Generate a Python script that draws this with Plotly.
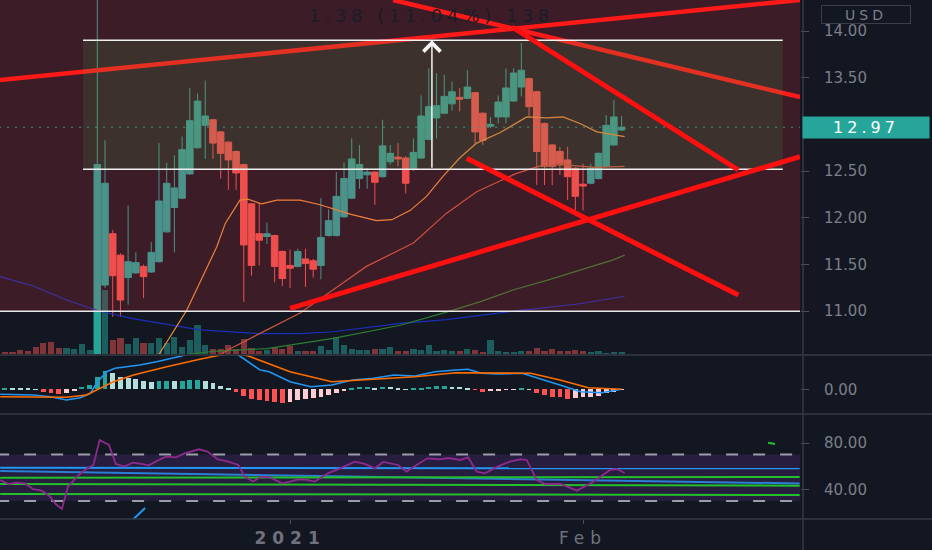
import plotly.graph_objects as go

# candle index 0 is the first visible bar; negative ones sit below the visible price range
idx = list(range(-12, 69))

opens = [10.30, 10.27, 10.25, 10.20, 10.18, 10.10, 10.03, 9.95, 9.93, 10.02, 10.06, 10.20,
         10.30, 11.28, 11.83, 11.60, 11.36, 11.41, 11.48, 11.42, 11.53, 11.85, 12.11, 12.21,
         12.47, 12.75, 12.99, 13.05, 12.92, 12.81, 12.71, 12.57, 12.15, 11.83, 11.80, 11.81,
         11.64, 11.49, 11.48, 11.56, 11.54, 11.49, 11.81, 11.81, 12.01, 12.21, 12.42, 12.46,
         12.49, 12.44, 12.60, 12.65, 12.64, 12.53, 12.64, 12.84, 13.07, 13.12, 13.22, 13.29,
         13.28, 13.34, 13.12, 12.98, 13.08, 13.08, 13.25, 13.40, 13.49, 13.35, 13.01, 12.78,
         12.71, 12.62, 12.53, 12.36, 12.37, 12.42, 12.55, 12.78, 12.94]
highs = [10.34, 10.30, 10.28, 10.23, 10.20, 10.12, 10.05, 9.99, 10.05, 10.08, 10.25, 10.35,
         14.80, 12.83, 11.87, 11.62, 12.13, 11.63, 11.50, 11.74, 12.80, 12.59, 12.67, 12.87,
         13.39, 13.33, 13.47, 13.06, 12.93, 12.82, 12.72, 12.58, 12.16, 12.16, 11.95, 11.82,
         11.65, 11.66, 11.67, 11.67, 11.56, 12.21, 12.09, 12.49, 12.59, 12.85, 12.78, 12.53,
         12.50, 13.05, 12.78, 12.80, 12.66, 12.85, 13.31, 13.60, 13.55, 13.53, 13.46, 13.39,
         13.58, 13.35, 13.13, 13.08, 13.31, 13.60, 13.60, 13.87, 13.50, 13.36, 13.02, 12.79,
         12.76, 12.76, 12.54, 12.58, 12.58, 12.70, 13.10, 13.26, 13.09]
lows = [10.24, 10.22, 10.18, 10.15, 10.08, 10.00, 9.92, 9.90, 9.92, 10.00, 10.05, 10.18,
        10.25, 11.25, 10.94, 10.94, 11.07, 11.40, 11.14, 11.41, 11.52, 11.84, 11.63, 12.20,
        12.46, 12.74, 12.63, 12.63, 12.42, 12.30, 12.30, 11.10, 11.38, 11.49, 11.72, 11.31,
        11.27, 11.25, 11.47, 11.26, 11.36, 11.34, 11.80, 11.80, 12.00, 12.20, 12.31, 12.31,
        12.14, 12.43, 12.57, 12.55, 12.26, 12.50, 12.63, 12.83, 12.85, 13.11, 13.15, 13.14,
        13.27, 12.78, 12.78, 12.96, 13.01, 13.01, 13.24, 13.30, 13.09, 12.35, 12.35, 12.35,
        12.46, 12.19, 12.08, 12.08, 12.36, 12.41, 12.54, 12.77, 12.93]
closes = [10.27, 10.25, 10.20, 10.18, 10.10, 10.03, 9.95, 9.93, 10.02, 10.06, 10.20, 10.30,
          12.57, 12.37, 11.38, 11.12, 11.53, 11.52, 11.37, 11.63, 12.18, 12.37, 12.32, 12.73,
          13.04, 13.25, 13.09, 12.80, 12.69, 12.62, 12.48, 11.71, 11.49, 11.76, 11.83, 11.48,
          11.35, 11.46, 11.64, 11.51, 11.45, 11.79, 11.97, 12.23, 12.42, 12.63, 12.57, 12.49,
          12.38, 12.77, 12.69, 12.63, 12.37, 12.70, 13.09, 13.19, 13.20, 13.30, 13.35, 13.27,
          13.40, 12.92, 12.83, 13.00, 13.24, 13.39, 13.55, 13.58, 13.19, 12.71, 12.55, 12.55,
          12.58, 12.44, 12.23, 12.34, 12.53, 12.69, 12.99, 13.08, 12.97]
volume = [20, 17, 40, 33, 73, 107, 117, 63, 63, 47, 97, 43,
          1500, 640, 140, 163, 97, 157, 107, 113, 163, 107, 173, 73,
          140, 290, 90, 50, 50, 90, 47, 147, 57, 30, 40, 70,
          50, 80, 30, 30, 30, 80, 40, 170, 90, 50, 40, 40,
          50, 50, 70, 30, 30, 50, 40, 90, 30, 40, 30, 30,
          50, 40, 20, 140, 30, 20, 20, 30, 30, 60, 30, 50,
          30, 30, 40, 30, 20, 30, 10, 20, 20]

# moving averages, sampled (bar index, price)
ema_fast_x = [4, 8.1, 11.6, 15.5, 16.6, 18.5, 19.5, 21.3, 23.3, 26.3, 28.9, 32.8, 36.2, 38.2,
              40.6, 42.7, 44.8, 47.0, 49.2, 52.2, 55.7, 58.3, 60.4, 62.6, 64.8, 68.4]
ema_fast_y = [10.05, 10.55, 11.01, 11.69, 11.94, 12.19, 12.20, 12.15, 12.19, 12.19, 12.14, 12.04,
              11.97, 11.98, 12.08, 12.23, 12.44, 12.64, 12.80, 12.91, 13.08, 13.07, 13.08, 13.01,
              12.92, 12.87]
ema_mid_x = [8, 16.8, 22.0, 26.3, 30.6, 34.9, 41.0, 45.3, 49.2, 51.6, 54.2, 57.2, 60.2, 64.6, 68.4]
ema_mid_y = [10.10, 10.58, 10.80, 10.98, 11.23, 11.48, 11.73, 12.05, 12.28, 12.37, 12.47, 12.55,
             12.57, 12.54, 12.55]
ema_slow_x = [8, 15, 22.0, 30.6, 39.3, 45.3, 49.6, 54.0, 58.3, 62.6, 66.9, 68.4]
ema_slow_y = [10.50, 10.57, 10.60, 10.71, 10.85, 10.99, 11.10, 11.23, 11.33, 11.44, 11.55, 11.60]
ema_long_x = [-12.6, -8.3, -4.0, 0.35, 4.6, 9.0, 13.3, 21.1, 26.3, 30.6, 39.3, 45.3, 54.0, 62.6, 68.4]
ema_long_y = [11.37, 11.27, 11.12, 11.00, 10.92, 10.86, 10.80, 10.76, 10.76, 10.78, 10.87, 10.91,
              11.00, 11.08, 11.16]

# MACD pane
macd_x = [-12.6, -8.3, -6.1, -4.0, -2.2, -0.9, -0.1, 1.2, 2.3, 3.8, 5.5, 7.7, 9.9, 10.9, 14.5,
          18.3, 21.1, 22.3, 25.0, 27.7, 30.4, 33.1, 35.8, 38.5, 41.2, 43.8, 46.5, 48.1, 49.8,
          51.9, 55.1, 57.3, 60.0, 62.7, 65.4, 68.0]
macd_y = [-0.05, -0.057, -0.074, -0.107, -0.084, -0.04, 0.06, 0.176, 0.21, 0.226, 0.243, 0.276,
          0.32, 0.333, 0.44, 0.343, 0.193, 0.176, 0.076, 0.026, 0.043, 0.093, 0.11, 0.143, 0.133,
          0.176, 0.193, 0.2, 0.16, 0.153, 0.16, 0.11, 0.043, -0.024, -0.034, 0.0]
signal_x = [-12.6, -8.3, -4.0, -1.4, 0.35, 2.1, 4.7, 9.0, 13.3, 17.6, 19.6, 25.0, 30.4, 35.8,
            41.2, 46.5, 51.9, 56.2, 60.0, 63.7, 68.0]
signal_y = [-0.074, -0.08, -0.08, -0.057, 0.01, 0.076, 0.143, 0.226, 0.30, 0.37, 0.333, 0.176,
            0.076, 0.10, 0.126, 0.166, 0.166, 0.16, 0.093, 0.016, 0.0]
hist = [0.010, 0.009, 0.008, 0.005, 0.002, -0.023, -0.033, -0.050, -0.033, -0.017, 0.020, 0.043,
        0.127, 0.183, 0.160, 0.127, 0.110, 0.100, 0.083, 0.077, 0.083, 0.085, 0.083, 0.086,
        0.092, 0.094, 0.087, 0.060, 0.033, 0.010, -0.023, -0.067, -0.097, -0.107, -0.113, -0.123,
        -0.133, -0.123, -0.107, -0.100, -0.090, -0.073, -0.057, -0.033, -0.013, 0.017, 0.020, 0.023,
        0.017, 0.027, 0.024, 0.017, 0.003, 0.010, 0.017, 0.027, 0.033, 0.035, 0.027, 0.025,
        0.017, -0.007, -0.023, -0.017, -0.013, -0.003, -0.002, 0.007, 0.003, -0.040, -0.057, -0.073,
        -0.080, -0.093, -0.087, -0.080, -0.073, -0.067, -0.040, -0.023, -0.007]

# RSI pane
rsi_x = [-12.6, -11.5, -10.5, -9.4, -8.3, -7.2, -6.2, -5.4, -4.6, -3.8, -2.4, -1.3, -0.5, 0.3,
         1.5, 2.4, 3.5, 4.6, 5.7, 6.7, 7.8, 8.9, 10.2, 11.3, 13.2, 14.3, 15.6, 17.0, 18.3, 19.1,
         20.2, 21.3, 22.3, 24.0, 25.0, 26.1, 27.2, 28.2, 29.9, 31.5, 33.4, 34.7, 36.0, 37.1, 39.0,
         40.1, 41.1, 42.8, 44.4, 45.5, 47.1, 48.1, 49.2, 50.3, 51.9, 53.5, 54.9, 55.7, 57.0, 58.1,
         60.1, 62.2, 64.3, 66.5, 67.4, 68.4]
rsi_y = [48.2, 44.7, 45.9, 45.3, 40.2, 39.0, 34.4, 27.5, 23.2, 42.5, 52.5, 58.2, 61.1, 82.6,
         78.3, 62.0, 59.7, 63.1, 62.0, 60.8, 64.8, 68.3, 67.7, 71.1, 74.6, 72.6, 66.0, 64.0, 61.1,
         51.1, 46.8, 51.1, 50.5, 45.3, 46.8, 48.8, 48.2, 46.8, 53.9, 58.2, 64.0, 62.0, 58.2, 63.7,
         61.1, 55.4, 59.7, 66.8, 66.0, 67.1, 65.4, 67.7, 55.4, 53.9, 59.7, 64.0, 66.0, 65.4, 48.2,
         44.7, 44.7, 39.0, 46.5, 56.8, 57.6, 54.2]
rsi_upper, rsi_lower = 70, 30
# drawn lines in the RSI pane: (x0, y0, x1, y1, colour)
rsi_drawings = [(-12.6, 58.7, 91.1, 58.2, "#2196f3"),
                (-12.6, 55.9, 91.1, 45.2, "#2a7fd6"),
                (-12.6, 50.2, 91.1, 50.8, "#22c02a"),
                (-12.6, 44.7, 91.1, 43.3, "#22c02a"),
                (-12.6, 36.1, 91.1, 35.3, "#22c02a"),
                (4.3, 12.0, 6.2, 24.1, "#2196f3"),
                (87.0, 80.3, 87.9, 79.1, "#22c02a")]

# drawings on the price pane (bar index, price)
zone_low, zone_high = 11.00, 15.5
range_x0, range_x1 = -1.85, 88.9
range_low, range_high = 12.52, 13.90
range_arrow_x = 43.4
range_label = "1.38 (11.04%) 138"
last_price = 12.97
trend_under = [(-12.62, 13.475, 91.14, 14.332), (38.38, 14.332, 91.14, 13.293)]
trend_over = [(53.79, 14.043, 83.14, 12.512), (24.99, 11.031, 91.14, 12.654),
              (47.91, 12.637, 83.14, 11.173)]

tick_vals = [25, 63]
tick_text = ["<b>2021</b>", "Feb"]
# 13.00 sits under the last-price tag, so it is not shown
price_ticks = [11.0, 11.5, 12.0, 12.5, 13.5, 14.0]

UP, DOWN = "#26a69a", "#ef5350"
BG = "#131722"
AXIS_TXT = "#7c7f88"
FONT = "DejaVu Sans"

fig = go.Figure()

# volume underneath the candles
vol_colors = ["rgba(38,166,154,0.5)" if c >= o else "rgba(239,83,80,0.5)" for o, c in zip(opens, closes)]
fig.add_trace(go.Bar(x=idx, y=volume, marker_color=vol_colors, marker_line_width=0, width=0.8,
                     xaxis="x", yaxis="y", hoverinfo="skip"))

fig.add_trace(go.Candlestick(
    x=idx, open=opens, high=highs, low=lows, close=closes,
    increasing=dict(line=dict(color=UP, width=1), fillcolor=UP),
    decreasing=dict(line=dict(color=DOWN, width=1), fillcolor=DOWN),
    whiskerwidth=0, xaxis="x", yaxis="y2"))

for xs, ys, col in [(ema_long_x, ema_long_y, "#1c2fb8"), (ema_slow_x, ema_slow_y, "#2e7d32"),
                    (ema_mid_x, ema_mid_y, "#c8553d"), (ema_fast_x, ema_fast_y, "#f0913a")]:
    fig.add_trace(go.Scatter(x=xs, y=ys, mode="lines", line=dict(color=col, width=1.2),
                             xaxis="x", yaxis="y2", hoverinfo="skip"))

# MACD histogram colours follow sign and direction
hist_colors = []
for i, h in enumerate(hist):
    prev = hist[i - 1] if i > 0 else h
    if h >= 0:
        hist_colors.append("#26a69a" if h >= prev else "#b2dfdb")
    else:
        hist_colors.append("#ffcdd2" if h >= prev else "#ff5252")
fig.add_trace(go.Bar(x=idx, y=hist, marker_color=hist_colors, marker_line_width=0, width=0.62,
                     xaxis="x", yaxis="y3", hoverinfo="skip"))
fig.add_trace(go.Scatter(x=macd_x, y=macd_y, mode="lines", line=dict(color="#2196f3", width=1.6),
                         xaxis="x", yaxis="y3"))
fig.add_trace(go.Scatter(x=signal_x, y=signal_y, mode="lines", line=dict(color="#ff6d00", width=1.6),
                         xaxis="x", yaxis="y3"))

for x0, y0, x1, y1, col in rsi_drawings:
    fig.add_trace(go.Scatter(x=[x0, x1], y=[y0, y1], mode="lines", line=dict(color=col, width=2),
                             xaxis="x", yaxis="y4", hoverinfo="skip"))
fig.add_trace(go.Scatter(x=rsi_x, y=rsi_y, mode="lines", line=dict(color="#8e2a8e", width=1.8),
                         xaxis="x", yaxis="y4"))

shapes = []
# RSI band and levels
shapes.append(dict(type="rect", xref="x", yref="y4", x0=-20, x1=100, y0=rsi_lower, y1=rsi_upper,
                   fillcolor="rgba(140,60,215,0.16)", line_width=0, layer="below"))
for lv in (rsi_upper, rsi_lower):
    shapes.append(dict(type="line", xref="x", yref="y4", x0=-20, x1=100, y0=lv, y1=lv,
                       line=dict(color="#9a9ea6", width=2, dash="12px,15px"), layer="below"))

# maroon zone above 11.00 drawn over the candles
shapes.append(dict(type="rect", xref="x", yref="y2", x0=-20, x1=100, y0=zone_low, y1=zone_high,
                   fillcolor="rgba(242,54,69,0.18)", line=dict(color="#e8e8e8", width=1.5), layer="above"))
for x0, y0, x1, y1 in trend_under:
    shapes.append(dict(type="line", xref="x", yref="y2", x0=x0, y0=y0, x1=x1, y1=y1,
                       line=dict(color="#ff1a1a", width=4.5), layer="above"))
# price range box
shapes.append(dict(type="rect", xref="x", yref="y2", x0=range_x0, x1=range_x1, y0=range_low,
                   y1=range_high, fillcolor="rgba(76,175,80,0.15)", line_width=0, layer="above"))
for lv in (range_low, range_high):
    shapes.append(dict(type="line", xref="x", yref="y2", x0=range_x0, x1=range_x1, y0=lv, y1=lv,
                       line=dict(color="#f0f0f0", width=1.5), layer="above"))
shapes.append(dict(type="line", xref="x", yref="y2", x0=-20, x1=100, y0=last_price, y1=last_price,
                   line=dict(color="#3f9a8a", width=1, dash="2px,6px"), layer="above"))
for x0, y0, x1, y1 in trend_over:
    shapes.append(dict(type="line", xref="x", yref="y2", x0=x0, y0=y0, x1=x1, y1=y1,
                       line=dict(color="#ff1010", width=5), layer="above"))

# pane separators and price scale border
for yy in (1 - 355 / 550, 1 - 414 / 550, 1 - 519 / 550):
    shapes.append(dict(type="line", xref="paper", yref="paper", x0=0, x1=1, y0=yy, y1=yy,
                       line=dict(color="#363a45", width=1.5)))
shapes.append(dict(type="line", xref="paper", yref="paper", x0=803 / 932, x1=803 / 932, y0=0, y1=1,
                   line=dict(color="#363a45", width=1.5)))

annotations = [
    dict(x=range_arrow_x, y=range_high, ax=range_arrow_x, ay=range_low, xref="x", yref="y2",
         axref="x", ayref="y2", text="", showarrow=True, arrowhead=4, arrowsize=2.2,
         arrowwidth=1.5, arrowcolor="#f5f5f5"),
    dict(x=range_arrow_x, y=1 - 16 / 550, xref="x", yref="paper", xanchor="center", yanchor="middle",
         text=range_label, showarrow=False, font=dict(family=FONT, size=18, color="#1b1d27")),
    dict(x=866 / 932, y=last_price, xref="paper", yref="y2", xanchor="center", yanchor="middle",
         text=f"{last_price:.2f}", showarrow=False, bgcolor=UP, width=124, height=19,
         font=dict(family=FONT, size=16, color="#ffffff")),
    dict(x=866 / 932, y=1 - 14.5 / 550, xref="paper", yref="paper", xanchor="center", yanchor="middle",
         text="USD", showarrow=False, bgcolor=BG, bordercolor="#3a3e4a", borderwidth=1, width=86,
         height=15, font=dict(family=FONT, size=14, color=AXIS_TXT)),
]

ax_common = dict(showgrid=False, zeroline=False, showline=False, side="right", anchor="x",
                 ticks="outside", ticklen=8, tickcolor="#4a4e5a", tickformat=".2f",
                 ticklabelstandoff=12, tickfont=dict(family=FONT, size=15, color=AXIS_TXT))

fig.update_layout(
    width=932, height=550, margin=dict(l=0, r=0, t=0, b=0),
    paper_bgcolor=BG, plot_bgcolor=BG, showlegend=False,
    shapes=shapes, annotations=annotations, bargap=0, boxgap=0.15, boxgroupgap=0,
    xaxis=dict(domain=[0, 800 / 932], range=[-12.62, 91.14], anchor="y4",
               tickvals=tick_vals, ticktext=tick_text, showgrid=False, zeroline=False,
               ticks="outside", ticklen=4, tickcolor="#4a4e5a", rangeslider=dict(visible=False),
               tickfont=dict(family=FONT, size=17, color="#6f727c")),
    yaxis=dict(domain=[1 - 354 / 550, 1], range=[0, 3540], visible=False, anchor="x"),
    yaxis2=dict(overlaying="y", range=[10.542, 14.332], tickvals=price_ticks, **ax_common),
    yaxis3=dict(domain=[1 - 414 / 550, 1 - 355 / 550], range=[-0.247, 0.343], tickvals=[0], **ax_common),
    yaxis4=dict(domain=[1 - 519 / 550, 1 - 415 / 550], range=[14.6, 104.1], tickvals=[40, 80], **ax_common),
)

# page margin off; the screenshot's labels are widely tracked
page_css = ("document.body.style.margin='0';"
            "var s=document.createElement('style');"
            "s.textContent='.ytick text{letter-spacing:4.5px}.xtick text{letter-spacing:6px}"
            ".annotation-text{letter-spacing:4px}.annotation[data-index=\"1\"] .annotation-text{letter-spacing:4.5px}';"
            "document.head.appendChild(s);")

fig.write_html("out.html", post_script=page_css, config={"displayModeBar": False})
